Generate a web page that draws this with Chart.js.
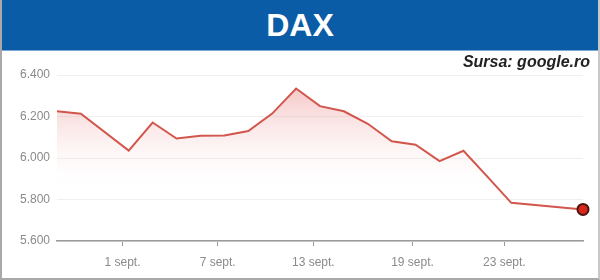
<!DOCTYPE html>
<html>
<head>
<meta charset="utf-8">
<script src="https://cdn.jsdelivr.net/npm/chart.js@4"></script>
<style>
  html, body { margin: 0; padding: 0; background: #fff; }
  #wrap { position: relative; width: 600px; height: 280px; box-sizing: border-box;
          border-left: 2px solid #a9a9a9; border-right: 2px solid #c8c8c8; border-bottom: 2px solid #a9a9a9;
          font-family: "Liberation Sans", Arial, sans-serif; overflow: hidden; }
  #head { position: absolute; left: -2px; top: 0; width: 600px; height: 50px; background: #0b5ca6;
          border-bottom: 1px solid #7fa8d0; color: #fff; font-weight: bold; font-size: 32px;
          text-align: center; line-height: 50px; }
  #src { position: absolute; right: 8px; top: 53px; font-size: 16px; font-weight: bold;
         font-style: italic; color: #222; }
  #box { position: absolute; left: -2px; top: 50px; width: 600px; height: 230px; }
</style>
</head>
<body>
<div id="wrap">
  <div id="head">DAX</div>
  <div id="box"><canvas id="myChart"></canvas></div>
  <div id="src">Sursa: google.ro</div>
</div>
<script>
// trading-day positions and closing values
var xUnits = [0, 1, 3, 4, 5, 6, 7, 8, 9, 10, 11, 12, 13, 14, 15, 16, 17, 18, 19, 22];
var daxValues = [6225, 6213, 6036, 6171, 6094, 6107, 6108, 6130, 6214, 6335, 6250, 6225, 6165, 6081, 6064, 5985, 6035, 5910, 5784, 5752];
var tickPositions = [2.74, 6.72, 10.72, 14.87, 18.71];
var tickLabels = ["1 sept.", "7 sept.", "13 sept.", "19 sept.", "23 sept."];

var points = [];
for (var i = 0; i < xUnits.length; i++) {
  points.push({ x: xUnits[i], y: daxValues[i] });
}
var last = points.length - 1;

function fmt(v) {
  return String(v).replace(/\B(?=(\d{3})+(?!\d))/g, ".");
}

var ctx = document.getElementById("myChart").getContext("2d");
var myChart = new Chart(ctx, {
  type: "line",
  data: {
    datasets: [{
      data: points,
      borderColor: "#d2564c",
      borderWidth: 2,
      tension: 0,
      clip: false,
      fill: "start",
      backgroundColor: function (c) {
        var area = c.chart.chartArea;
        if (!area) return "rgba(230,120,120,0.2)";
        var g = c.chart.ctx.createLinearGradient(0, area.top, 0, area.bottom - 45);
        g.addColorStop(0, "rgba(228,100,100,0.45)");
        g.addColorStop(1, "rgba(255,255,255,0)");
        return g;
      },
      pointRadius: function (c) { return c.dataIndex === last ? 5.5 : 0; },
      pointHoverRadius: 0,
      pointBackgroundColor: "#d8261c",
      pointBorderColor: "#4a1510",
      pointBorderWidth: 2
    }]
  },
  options: {
    responsive: true,
    maintainAspectRatio: false,
    animation: false,
    layout: { padding: { top: 25, right: 17, left: 0, bottom: 0 } },
    plugins: { legend: { display: false }, tooltip: { enabled: false } },
    scales: {
      x: {
        type: "linear",
        min: 0,
        max: 22,
        afterBuildTicks: function (scale) {
          scale.ticks = tickPositions.map(function (v) { return { value: v }; });
        },
        afterFit: function (scale) { scale.height = 39; },
        ticks: {
          autoSkip: false,
          maxRotation: 0,
          padding: 9,
          color: "#8a8a8a",
          font: { family: "Liberation Sans", size: 12 },
          callback: function (v, i) { return tickLabels[i]; }
        },
        grid: { drawOnChartArea: false, drawTicks: true, tickLength: 5, color: "#9a9a9a" },
        border: { color: "#9a9a9a", width: 1.5 }
      },
      y: {
        min: 5600,
        max: 6400,
        afterFit: function (scale) { scale.width = 57; },
        ticks: {
          stepSize: 200,
          padding: 7,
          color: "#8a8a8a",
          font: { family: "Liberation Sans", size: 12 },
          callback: function (v) { return fmt(v); }
        },
        grid: { color: "#f0f0f0", drawTicks: false },
        border: { display: false }
      }
    }
  }
});
</script>
</body>
</html>
